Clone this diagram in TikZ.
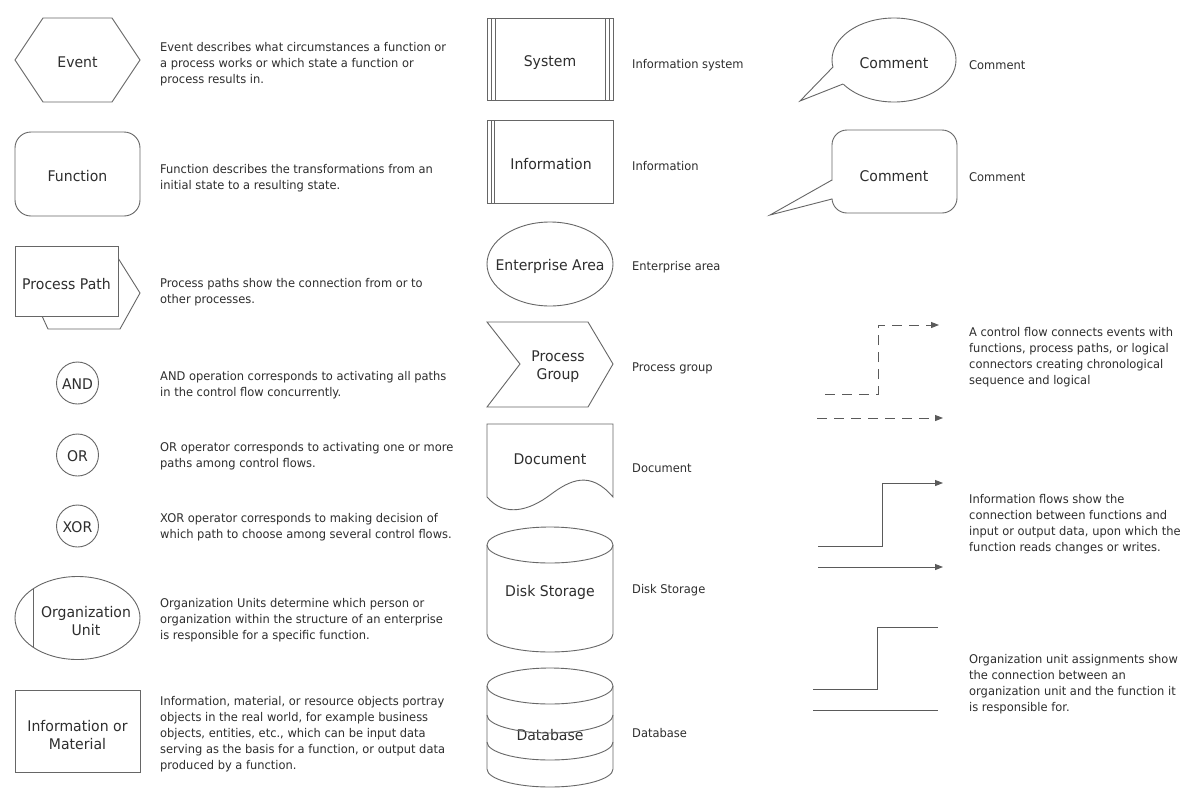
\documentclass[tikz,border=0pt]{standalone}
\usepackage{fontspec}
\setmainfont{DejaVu Sans}[FakeStretch=0.955]
\usetikzlibrary{arrows.meta}
\definecolor{ln}{HTML}{666666}
\definecolor{fl}{HTML}{5A5A5A}
\definecolor{tx}{HTML}{2E2E2E}
\begin{document}
\begin{tikzpicture}[x=1pt,y=-1pt,
  shp/.style={draw=ln, line width=0.9pt},
  lbl/.style={font=\fontsize{14.7}{18}\selectfont, text=tx, align=center, inner sep=0pt},
  desc/.style={font=\fontsize{12}{16}\selectfont, text=tx, align=left, anchor=west, inner sep=0pt},
  flow/.style={draw=fl, line width=1pt},
  tipend/.style={-{Triangle[length=8pt,width=6pt]}},
  cflow/.style={flow, dash pattern=on 10pt off 7pt},
]
\fill[white] (0,0) rectangle (1200,809);
\useasboundingbox (0,0) rectangle (1200,809);

% ---------- left column ----------
\draw[shp] (15,60)--(43,18)--(112,18)--(140,60)--(112,102)--(43,102)--cycle;
\node[lbl] (ev) at (77.5,62.5) {Event};
\node[desc] (evd) at (160,64) {Event describes what circumstances a function or\\a process works or which state a function or\\process results in.};

\draw[shp, rounded corners=16pt] (15,132) rectangle (140,216);
\node[lbl] (fn) at (77.5,176.5) {Function};
\node[desc] (fnd) at (160,178) {Function describes the transformations from an\\initial state to a resulting state.};

\draw[shp] (118,258)--(140,293)--(120,329)--(48,329)--(42,316);
\draw[shp, fill=white] (15,246) rectangle (118,316);
\node[lbl] (pp) at (66.5,284) {Process Path};
\node[desc] (ppd) at (160,292) {Process paths show the connection from or to\\other processes.};

\draw[shp] (77.5,383) circle[radius=21pt];
\node[lbl] (and) at (77.5,384) {AND};
\node[desc] (andd) at (160,385) {AND operation corresponds to activating all paths\\in the control flow concurrently.};

\draw[shp] (77.5,455) circle[radius=21pt];
\node[lbl] (or) at (77.5,456) {OR};
\node[desc] (ord) at (160,456) {OR operator corresponds to activating one or more\\paths among control flows.};

\draw[shp] (77.5,526) circle[radius=21pt];
\node[lbl] (xor) at (77.5,527) {XOR};
\node[desc] (xord) at (160,527) {XOR operator corresponds to making decision of\\which path to choose among several control flows.};

\draw[shp] (77.5,618) ellipse[x radius=62.5pt, y radius=41.5pt];
\draw[shp] (33,589)--(33,647);
\node[lbl] (ou) at (86,621) {Organization\\Unit};
\node[desc] (oud) at (160,620) {Organization Units determine which person or\\organization within the structure of an enterprise\\is responsible for a specific function.};

\draw[shp] (15,690) rectangle (140,772);
\node[lbl] (im) at (77.5,735) {Information or\\Material};
\node[desc] (imd) at (160,734) {Information, material, or resource objects portray\\objects in the real world, for example business\\objects, entities, etc., which can be input data\\serving as the basis for a function, or output data\\produced by a function.};

% ---------- middle column ----------
\draw[shp] (487,18) rectangle (613,100);
\draw[shp] (491,18)--(491,100) (495,18)--(495,100) (605,18)--(605,100) (609,18)--(609,100);
\node[lbl] (sys) at (550,63) {System};
\node[desc] (sysd) at (632,65) {Information system};

\draw[shp] (487,120) rectangle (613,203);
\draw[shp] (491,120)--(491,203) (494,120)--(494,203);
\node[lbl] (inf) at (551,164.5) {Information};
\node[desc] (infd) at (632,166) {Information};

\draw[shp] (550,264) ellipse[x radius=63pt, y radius=42pt];
\node[lbl] (ea) at (550,266) {Enterprise Area};
\node[desc] (ead) at (632,267) {Enterprise area};

\draw[shp] (487,322)--(588,322)--(613,364)--(588,407)--(487,407)--(520,364)--cycle;
\node[lbl] (pg) at (558,367) {Process\\Group};
\node[desc] (pgd) at (632,368) {Process group};

\draw[shp] (487,497)--(487,424)--(613,424)--(613,497) .. controls (590,470) and (570,480) .. (550,495) .. controls (530,510) and (505,518) .. (487,497);
\node[lbl] (doc) at (550,459) {Document};
\node[desc] (docd) at (632,468) {Document};

\draw[shp] (550,545) ellipse[x radius=63pt, y radius=18pt];
\draw[shp] (487,545)--(487,634) arc[start angle=180, end angle=360, x radius=63pt, y radius=18pt] --(613,545);
\node[lbl] (ds) at (550,592) {Disk Storage};
\node[desc] (dsd) at (632,590) {Disk Storage};

\node[lbl] (db) at (550,735) {Database};
\draw[shp] (550,686) ellipse[x radius=63pt, y radius=18pt];
\draw[shp] (487,686)--(487,769) arc[start angle=180, end angle=360, x radius=63pt, y radius=18pt] --(613,686);
\draw[shp] (487,715) arc[start angle=180, end angle=360, x radius=63pt, y radius=18pt];
\draw[shp] (487,742) arc[start angle=180, end angle=360, x radius=63pt, y radius=18pt];
\node[desc] (dbd) at (632,733) {Database};

% ---------- right column ----------
\draw[shp, fill=white] (894,60) ellipse[x radius=62pt, y radius=42pt];
\fill[white] (833.5,67) -- (800,101) -- (843.5,84) -- (850,75) -- cycle;
\draw[shp] (833,67) -- (800,101) -- (843,84);
\node[lbl] (cm1) at (894,63) {Comment};
\node[desc] (cm1d) at (969,65) {Comment};

\draw[shp, fill=white, rounded corners=15pt] (832,130) rectangle (957,213);
\fill[white] (832,180.5) -- (770,215) -- (832,198.5) -- (836,198.5) -- (836,180.5) -- cycle;
\draw[shp] (832,180) -- (770,215) -- (832,199);
\node[lbl] (cm2) at (894,176) {Comment};
\node[desc] (cm2d) at (969,177) {Comment};

\coordinate (c1a) at (825,394);
\coordinate (c1b) at (878,394);
\coordinate (c1c) at (878,325);
\coordinate (c1d) at (939,325);
\draw[cflow, tipend] (c1a) -- (c1b) -- (c1c) -- (c1d);
\coordinate (c2a) at (817,418);
\coordinate (c2b) at (943,418);
\draw[cflow, tipend] (c2a) -- (c2b);
\node[desc] (cfd) at (969,357) {A control flow connects events with\\functions, process paths, or logical\\connectors creating chronological\\sequence and logical};

\coordinate (i1a) at (818,546);
\coordinate (i1b) at (882,546);
\coordinate (i1c) at (882,483);
\coordinate (i1d) at (943,483);
\draw[flow, tipend] (i1a) -- (i1b) -- (i1c) -- (i1d);
\coordinate (i2a) at (818,567);
\coordinate (i2b) at (943,567);
\draw[flow, tipend] (i2a) -- (i2b);
\node[desc] (ifd) at (969,524) {Information flows show the\\connection between functions and\\input or output data, upon which the\\function reads changes or writes.};

\coordinate (o1a) at (813,689);
\coordinate (o1b) at (877,689);
\coordinate (o1c) at (877,627);
\coordinate (o1d) at (938,627);
\draw[flow] (o1a) -- (o1b) -- (o1c) -- (o1d);
\coordinate (o2a) at (813,710);
\coordinate (o2b) at (938,710);
\draw[flow] (o2a) -- (o2b);
\node[desc] (oad) at (969,684) {Organization unit assignments show\\the connection between an\\organization unit and the function it\\is responsible for.};
\end{tikzpicture}
\end{document}
